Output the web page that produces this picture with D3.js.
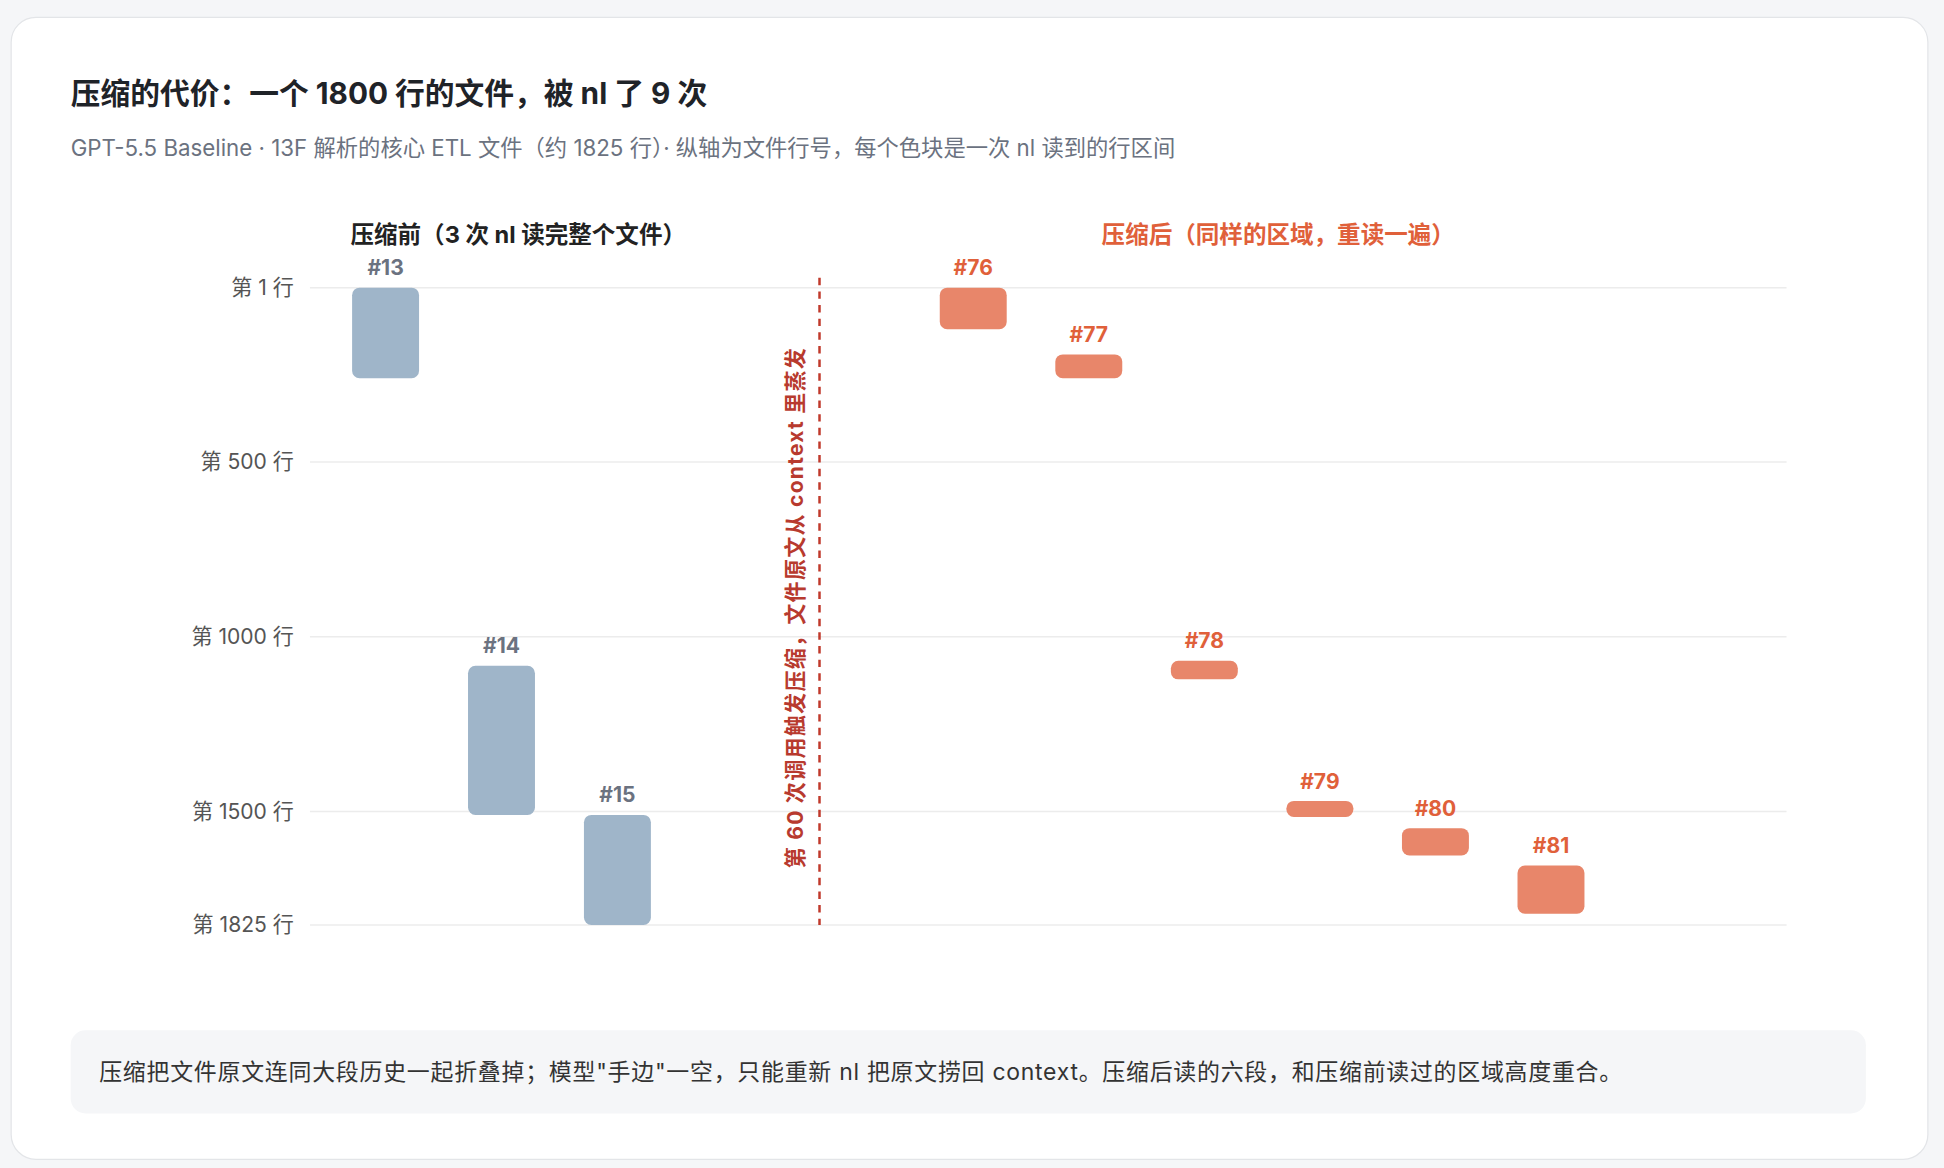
<!DOCTYPE html>
<html><head><meta charset="utf-8">
<script src="https://cdn.jsdelivr.net/npm/d3@7"></script>
<style>html,body{margin:0;padding:0;background:#f5f6f8;}svg{display:block;}</style>
</head><body>
<svg id="c" width="1944" height="1168" viewBox="0 0 1568 942"></svg>
<script>
const beforeIds = ["#13","#14","#15"];
const beforeStart = [1, 1083, 1510];
const beforeEnd = [260, 1510, 1825];
const afterIds = ["#76","#77","#78","#79","#80","#81"];
const afterStart = [1, 192, 1069, 1470, 1548, 1655];
const afterEnd = [120, 260, 1122, 1516, 1626, 1793];
const tickValues = [1, 500, 1000, 1500, 1825];
const tickLabels = ["第 1 行","第 500 行","第 1000 行","第 1500 行","第 1825 行"];

const F = 'Inter,"Noto Sans CJK SC",sans-serif';
const svg = d3.select("#c");
svg.append("rect").attr("x",9).attr("y",14).attr("width",1546).attr("height",921).attr("rx",20)
  .attr("fill","#fff").attr("stroke","#e3e5e8");
svg.append("text").attr("x",57).attr("y",84).attr("font-family",F).attr("font-size",24).attr("font-weight",700)
  .attr("fill","#1f2328").text("压缩的代价：一个 1800 行的文件，被 nl 了 9 次");
svg.append("text").attr("x",57).attr("y",126).attr("font-family",F).attr("font-size",18)
  .attr("fill","#6b7280").text("GPT-5.5 Baseline · 13F 解析的核心 ETL 文件（约 1825 行）· 纵轴为文件行号，每个色块是一次 nl 读到的行区间");

const y = d3.scaleLinear().domain([1,1825]).range([232,746]);
const xL = d3.scalePoint().domain(beforeIds).range([311,498]);
const xR = d3.scalePoint().domain(afterIds).range([785,1251]);
const bw = 54;

const g = svg.append("g");
tickValues.forEach((v,i)=>{
  g.append("line").attr("x1",250).attr("x2",1441).attr("y1",y(v)).attr("y2",y(v)).attr("stroke","#ececec").attr("stroke-width",1.2);
  g.append("text").attr("x",237).attr("y",y(v)).attr("dy","0.35em").attr("text-anchor","end")
    .attr("font-family",F).attr("font-size",17).attr("fill","#555").text(tickLabels[i]);
});

svg.append("text").attr("x",418).attr("y",196).attr("text-anchor","middle").attr("font-family",F).attr("font-size",19)
  .attr("font-weight",700).attr("fill","#222").text("压缩前（3 次 nl 读完整个文件）");
svg.append("text").attr("x",1031).attr("y",196).attr("text-anchor","middle").attr("font-family",F).attr("font-size",19)
  .attr("font-weight",700).attr("fill","#e0603a").text("压缩后（同样的区域，重读一遍）");

function draw(ids, s, e, x, fill, lab){
  ids.forEach((id,i)=>{
    svg.append("rect").attr("x",x(id)-bw/2).attr("y",y(s[i])).attr("width",bw).attr("height",Math.max(y(e[i])-y(s[i]),8))
      .attr("rx",6).attr("fill",fill);
    svg.append("text").attr("x",x(id)).attr("y",y(s[i])-10).attr("text-anchor","middle").attr("font-family",F)
      .attr("font-size",17).attr("font-weight",700).attr("fill",lab).text(id);
  });
}
draw(beforeIds,beforeStart,beforeEnd,xL,"#9fb5c9","#6b7280");
draw(afterIds,afterStart,afterEnd,xR,"#e8866a","#e0603a");

svg.append("line").attr("x1",661).attr("x2",661).attr("y1",224).attr("y2",746).attr("stroke","#c0392b")
  .attr("stroke-width",2).attr("stroke-dasharray","6,5");
svg.append("text").attr("transform","translate(648,490) rotate(-90)").attr("text-anchor","middle")
  .attr("font-family",F).attr("font-size",17).attr("font-weight",700).attr("fill","#b83a2e")
  .attr("letter-spacing",1).text("第 60 次调用触发压缩，文件原文从 context 里蒸发");

svg.append("rect").attr("x",57).attr("y",831).attr("width",1448).attr("height",67).attr("rx",12).attr("fill","#f5f6f8");
svg.append("text").attr("x",80).attr("y",865).attr("dy","0.35em").attr("font-family",F).attr("font-size",18.5)
  .attr("fill","#333").attr("letter-spacing",0.6).text('压缩把文件原文连同大段历史一起折叠掉；模型"手边"一空，只能重新 nl 把原文捞回 context。压缩后读的六段，和压缩前读过的区域高度重合。');
</script></body></html>
